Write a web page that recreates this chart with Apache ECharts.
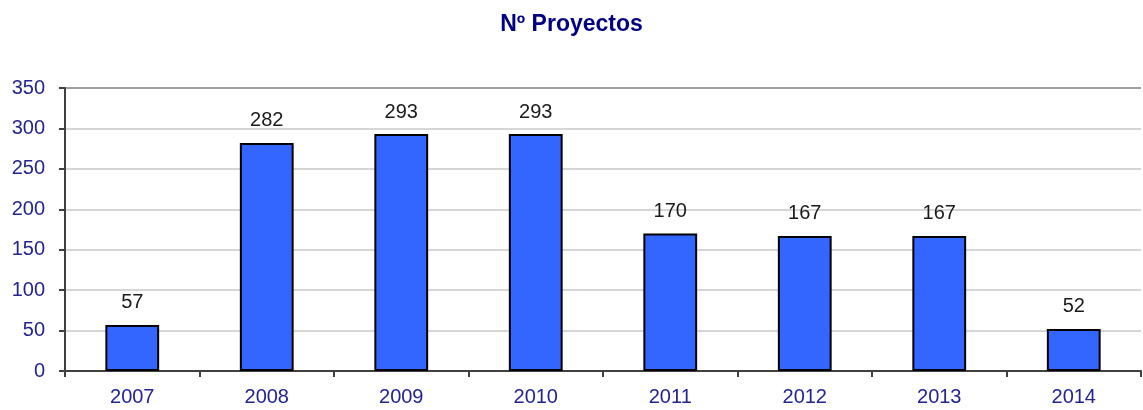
<!DOCTYPE html>
<html>
<head>
<meta charset="utf-8">
<script src="https://cdn.jsdelivr.net/npm/echarts@6/dist/echarts.min.js"></script>
<style>
  html, body { margin: 0; padding: 0; background: #fff; }
  #chart { width: 1143px; height: 410px; }
</style>
</head>
<body>
<div id="chart"></div>
<script>
var years = ['2007', '2008', '2009', '2010', '2011', '2012', '2013', '2014']
var proyectos = [57, 282, 293, 293, 170, 167, 167, 52]
var yTicks = [0, 350, 50] // min, max, interval

var chart = echarts.init(document.getElementById('chart'))
chart.setOption({
  animation: false,
  title: {
    text: 'Nº Proyectos',
    left: 'center',
    top: 8,
    textStyle: {
      color: '#000080',
      fontFamily: 'Liberation Sans',
      fontWeight: 'bold',
      fontSize: 23
    }
  },
  grid: {
    left: 65,
    right: 2,
    top: 88,
    bottom: 39
  },
  xAxis: {
    type: 'category',
    data: years,
    axisLine: { lineStyle: { color: '#404040', width: 2 } },
    axisTick: { show: true, alignWithLabel: false, length: 6, lineStyle: { color: '#404040', width: 2 } },
    axisLabel: {
      color: '#24248f',
      fontFamily: 'Liberation Sans',
      fontSize: 20,
      margin: 16
    }
  },
  yAxis: {
    type: 'value',
    min: yTicks[0],
    max: yTicks[1],
    interval: yTicks[2],
    axisLine: { show: true, lineStyle: { color: '#404040', width: 2 } },
    axisTick: { show: true, length: 6, lineStyle: { color: '#404040', width: 2 } },
    splitLine: {
      lineStyle: {
        color: ['#c8c8c8', '#c8c8c8', '#c8c8c8', '#c8c8c8', '#c8c8c8', '#c8c8c8', '#c8c8c8', '#808080'],
        width: 1.5
      }
    },
    axisLabel: {
      color: '#24248f',
      fontFamily: 'Liberation Sans',
      fontSize: 20,
      margin: 20
    }
  },
  series: [{
    type: 'bar',
    data: proyectos,
    barWidth: '40%',
    itemStyle: {
      color: '#3366ff',
      borderColor: '#000',
      borderWidth: 2
    },
    label: {
      show: true,
      position: 'top',
      distance: 12,
      color: '#1a1a1a',
      fontFamily: 'Liberation Sans',
      fontSize: 20
    }
  }]
})
</script>
</body>
</html>
